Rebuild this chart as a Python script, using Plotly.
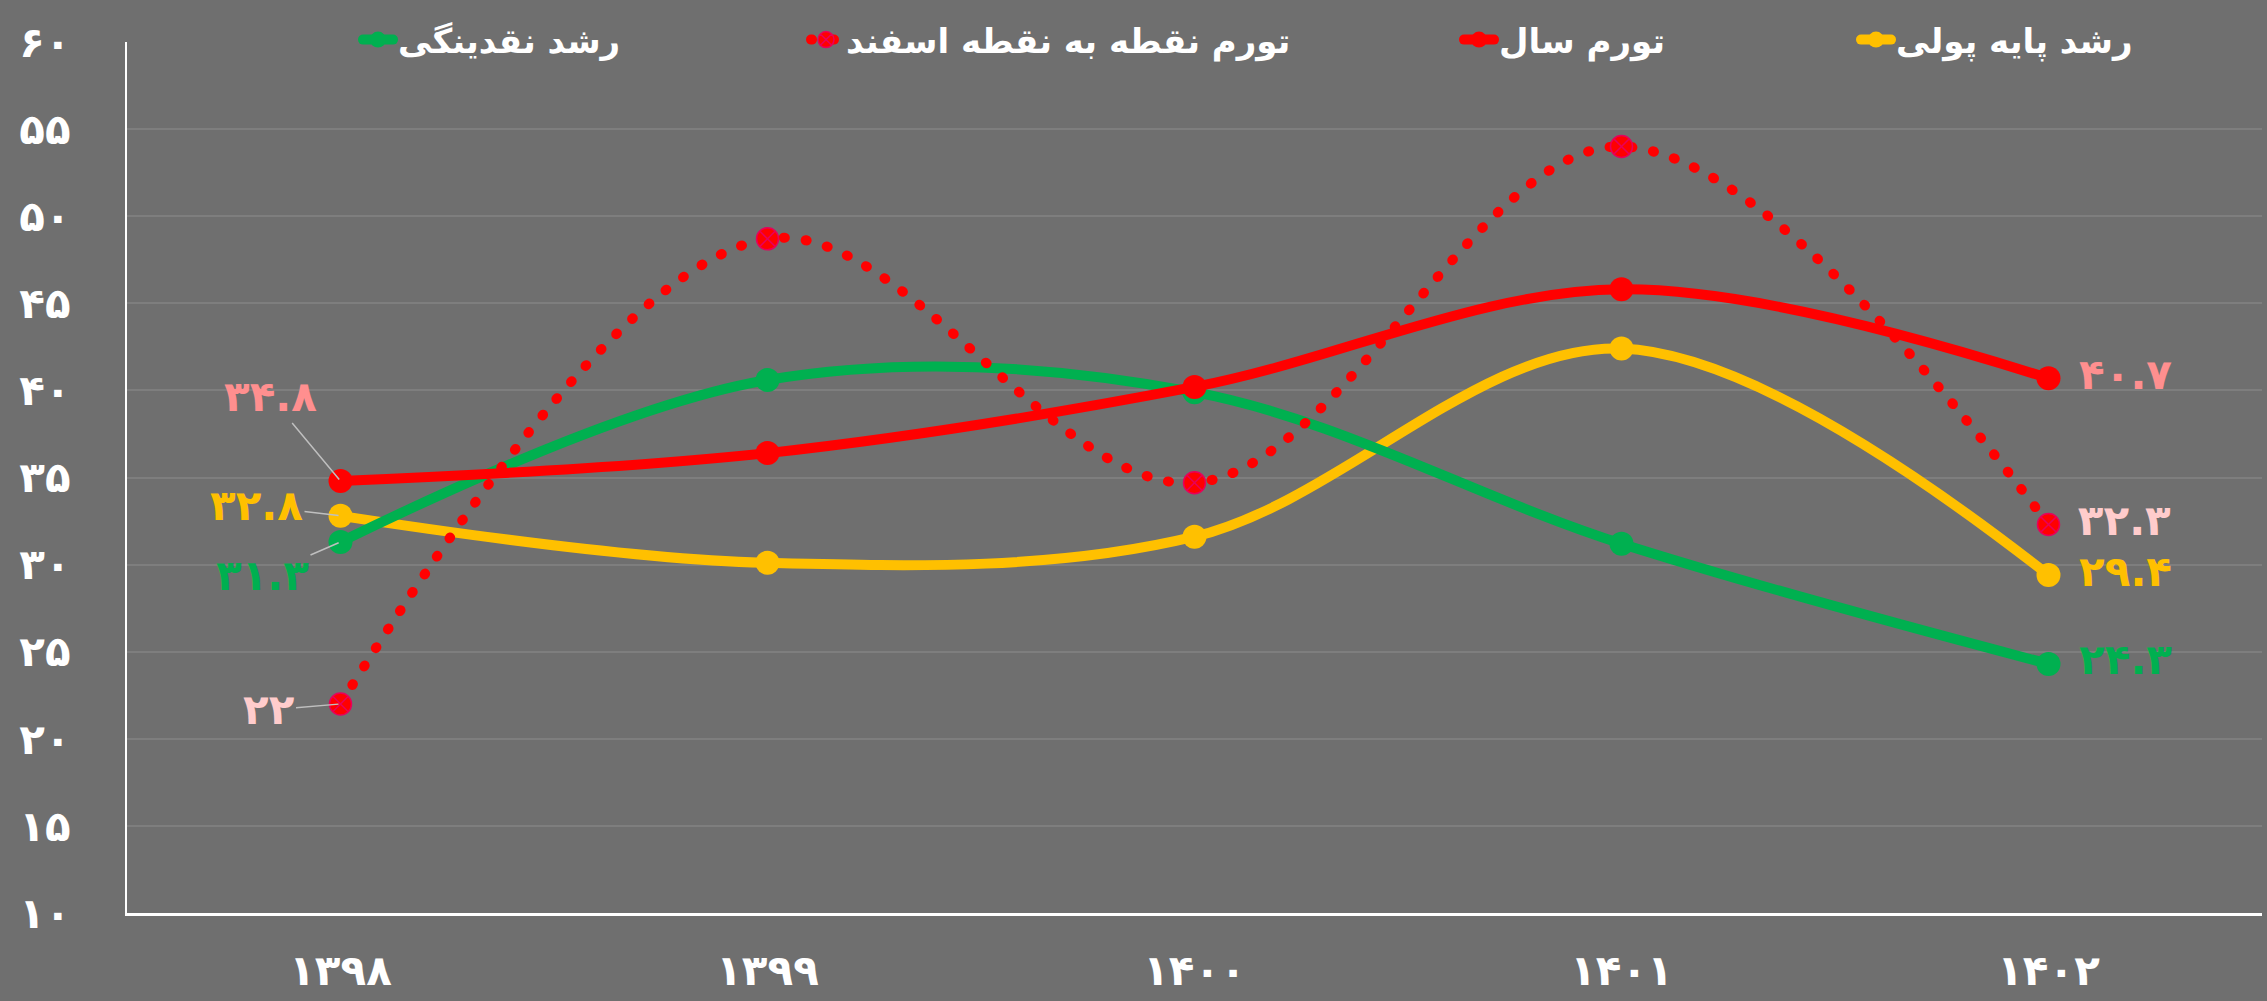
import plotly.graph_objects as go

# ---------------- data ----------------
years = ["۱۳۹۸", "۱۳۹۹", "۱۴۰۰", "۱۴۰۱", "۱۴۰۲"]
liquidity_growth = [31.3, 40.6, 39.9, 31.2, 24.3]          # رشد نقدینگی
inflation_esfand = [22.0, 48.7, 34.7, 54.0, 32.3]          # تورم نقطه به نقطه اسفند
inflation_annual = [34.8, 36.4, 40.2, 45.8, 40.7]          # تورم سال
monetary_base_growth = [32.8, 30.1, 31.6, 42.4, 29.4]      # رشد پایه پولی
y_tick_vals = [10, 15, 20, 25, 30, 35, 40, 45, 50, 55, 60]

names = {
    "liq": "رشد نقدینگی",
    "esf": "تورم نقطه به نقطه اسفند",
    "ann": "تورم سال",
    "base": "رشد پایه پولی",
}

FA = str.maketrans("0123456789", "۰۱۲۳۴۵۶۷۸۹")


def fa(v):
    s = f"{v:g}"
    return s.translate(FA)


FONT = "DejaVu Sans"
BG = "#6f6f6f"
GREEN = "#00b050"
RED = "#ff0000"
YELLOW = "#ffc000"
PINK = "#ff8f8f"
LPINK = "#ffcccc"
LBL = 42


def end_text(vals):
    return [""] * (len(vals) - 1) + [" " + fa(vals[-1])]


fig = go.Figure()

fig.add_trace(go.Scatter(
    x=years, y=monetary_base_growth, name=names["base"], legend="legend4",
    mode="lines+markers+text", line=dict(color=YELLOW, width=10, shape="spline", smoothing=1.0),
    marker=dict(color=YELLOW, size=24), text=end_text(monetary_base_growth),
    textposition="middle right", textfont=dict(color=YELLOW, size=LBL, family=FONT, weight="bold"),
    cliponaxis=False))

fig.add_trace(go.Scatter(
    x=years, y=liquidity_growth, name=names["liq"], legend="legend",
    mode="lines+markers+text", line=dict(color=GREEN, width=10, shape="spline", smoothing=1.0),
    marker=dict(color=GREEN, size=24), text=end_text(liquidity_growth),
    textposition="middle right", textfont=dict(color=GREEN, size=LBL, family=FONT, weight="bold"),
    cliponaxis=False))

fig.add_trace(go.Scatter(
    x=years, y=inflation_esfand, name=names["esf"], legend="legend2",
    mode="lines+markers+text",
    line=dict(color=RED, width=10, shape="spline", smoothing=1.0, dash="1px,21px"),
    marker=dict(color=RED, size=22, symbol="circle-x", line=dict(color="#e8005a", width=1.5)),
    text=end_text(inflation_esfand),
    textposition="middle right", textfont=dict(color=LPINK, size=LBL, family=FONT, weight="bold"),
    cliponaxis=False))

fig.add_trace(go.Scatter(
    x=years, y=inflation_annual, name=names["ann"], legend="legend3",
    mode="lines+markers+text", line=dict(color=RED, width=10, shape="spline", smoothing=1.0),
    marker=dict(color=RED, size=24), text=end_text(inflation_annual),
    textposition="middle right", textfont=dict(color=PINK, size=LBL, family=FONT, weight="bold"),
    cliponaxis=False))

# leader-line labels for the first year
first_labels = [
    (inflation_annual[0], PINK, -70, -84),
    (monetary_base_growth[0], YELLOW, -84, -10),
    (liquidity_growth[0], GREEN, -78, 34),
    (inflation_esfand[0], LPINK, -72, 6),
]
for val, col, ax, ay in first_labels:
    fig.add_annotation(
        x=years[0], y=val, text=fa(val), showarrow=True, arrowhead=0,
        arrowcolor="#bfbfbf", arrowwidth=1.5, ax=ax, ay=ay, standoff=2,
        font=dict(color=col, size=LBL, family=FONT, weight="bold"))

W, H = 2267, 1001
leg_common = dict(orientation="h", xref="container", yref="container",
                  yanchor="middle", xanchor="left", bgcolor="rgba(0,0,0,0)",
                  font=dict(color="white", size=34, family=FONT, weight="bold"))
leg_x = {"legend": 358, "legend2": 806, "legend3": 1459, "legend4": 1856}

layout_legends = {k: dict(leg_common, x=v / W, y=1 - 40 / H) for k, v in leg_x.items()}

fig.update_layout(
    width=W, height=H,
    paper_bgcolor=BG, plot_bgcolor=BG,
    margin=dict(l=127, r=5, t=42, b=88, autoexpand=False),
    showlegend=True,
    **layout_legends,
    xaxis=dict(
        type="category", range=[-0.5, 4.5], showgrid=False, showline=True,
        linecolor="white", linewidth=3,
        ticks="", tickfont=dict(color="white", size=42, family=FONT, weight="bold"),
        ticklabelstandoff=19, zeroline=False),
    yaxis=dict(
        range=[10, 60], tickvals=y_tick_vals, ticktext=[fa(v) for v in y_tick_vals],
        showgrid=True, gridcolor="#7e7e7e", gridwidth=2,
        showline=True, linecolor="white", linewidth=2, zeroline=False, ticks="",
        tickfont=dict(color="white", size=42, family=FONT, weight="bold"),
        ticklabelstandoff=46),
)

post = """
document.body.style.margin = '0';
document.body.style.padding = '0';
document.body.style.background = '#6f6f6f';
var s = document.createElement('style');
s.innerHTML = '.js-line{stroke-linecap:round;}';
document.head.appendChild(s);
"""
fig.write_html("out.html", post_script=post, config={"displayModeBar": False})
